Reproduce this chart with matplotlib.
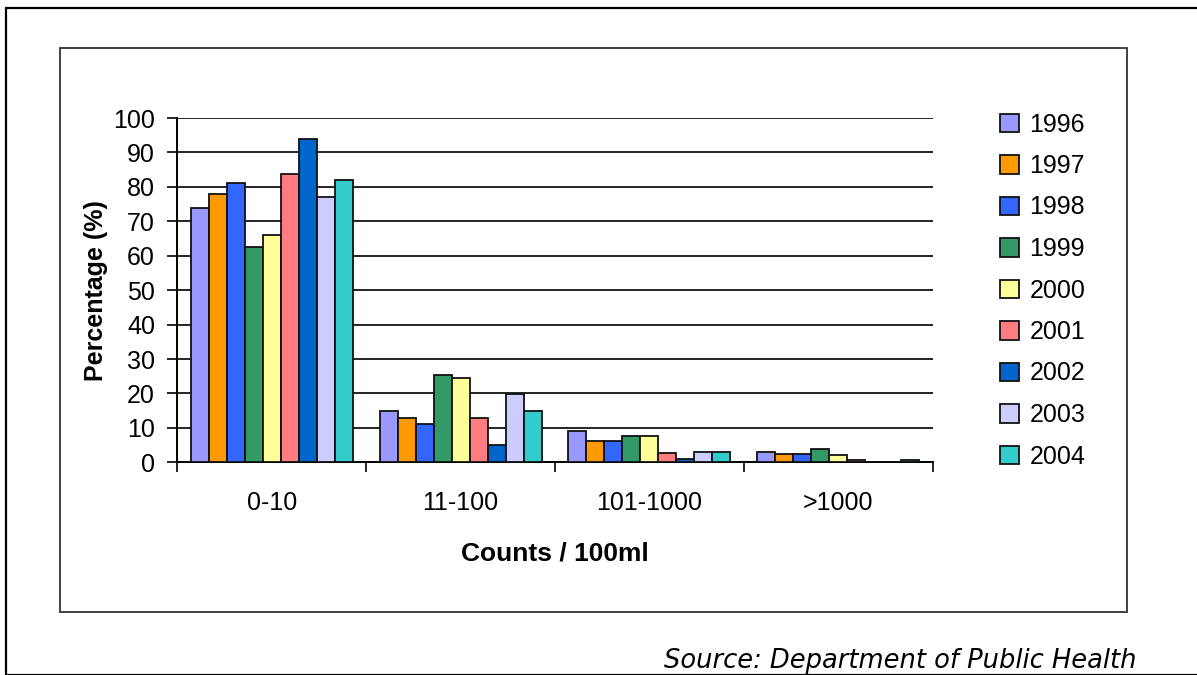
import numpy as np
import matplotlib
matplotlib.use("Agg")
from matplotlib import pyplot as plt
from matplotlib.patches import Rectangle

plt.rcParams['font.family'] = ['Liberation Sans', 'DejaVu Sans']

categories = ['0-10', '11-100', '101-1000', '>1000']
years = ['1996', '1997', '1998', '1999', '2000', '2001', '2002', '2003', '2004']
values = {
    '1996': [74.0, 15.0, 9.1, 2.9],
    '1997': [77.9, 12.8, 6.3, 2.4],
    '1998': [81.0, 11.1, 6.3, 2.4],
    '1999': [62.6, 25.3, 7.5, 3.8],
    '2000': [66.1, 24.5, 7.5, 2.0],
    '2001': [83.7, 12.8, 2.8, 0.7],
    '2002': [94.0, 5.0, 1.0, 0.0],
    '2003': [77.0, 19.7, 2.9, 0.0],
    '2004': [81.9, 15.0, 2.9, 0.7],
}
colors = ['#9999FF', '#FF9900', '#3366FF', '#339966', '#FFFF99',
          '#FF7C80', '#0066CC', '#CCCCFF', '#33CCCC']

W, H = 1197, 675
fig = plt.figure(figsize=(W / 100, H / 100), dpi=100)

# frames
fig.patches.append(Rectangle((6 / W, 0), 1.2, 1 - 8 / H, transform=fig.transFigure,
                             fill=False, lw=1.6, ec='black'))
fig.patches.append(Rectangle((60 / W, 1 - 612 / H), (1127 - 60) / W, (612 - 48) / H,
                             transform=fig.transFigure, fill=False, lw=1.3, ec='#333333'))

ax = fig.add_axes([177.3 / W, 1 - 462.3 / H, 755.4 / W, (462.3 - 118) / H])

x = np.arange(len(categories))
bw = 0.0953
for i, yr in enumerate(years):
    ax.bar(x + (i - 4) * bw, values[yr], width=bw, color=colors[i],
           edgecolor='#111111', linewidth=1.3, label=yr, zorder=3)

ax.set_xlim(-0.5, 3.5)
ax.set_ylim(0, 100)
ax.set_yticks(np.arange(0, 101, 10))
ax.yaxis.grid(True, color='black', linewidth=1.2, zorder=0)
ax.set_axisbelow(True)
ax.set_xticks(x)
ax.set_xticklabels(categories, fontsize=18)
ax.set_xticks(np.arange(-0.5, 3.6, 1), minor=True)
ax.tick_params(axis='x', which='major', length=0, pad=21)
ax.tick_params(axis='x', which='minor', length=7, width=1.2, direction='out')
ax.tick_params(axis='y', labelsize=18, length=7, width=1.2, pad=9)
for s in ['top', 'right']:
    ax.spines[s].set_visible(False)
for s in ['left', 'bottom']:
    ax.spines[s].set_linewidth(1.4)

ax.set_xlabel('Counts / 100ml', fontsize=19, fontweight='bold', labelpad=19)
ax.set_ylabel('Percentage (%)', fontsize=18, fontweight='bold', labelpad=4)

fig.legend(loc='upper left', bbox_to_anchor=(977 / W, 1 - 90 / H), frameon=False,
           fontsize=18, handlelength=0.76, handleheight=0.76, handletextpad=0.44,
           labelspacing=0.70)

fig.text(1137 / W, 1 - 668 / H, 'Source: Department of Public Health',
         ha='right', va='baseline', fontsize=18.5, style='italic', family='DejaVu Sans')

fig.savefig('out.png', dpi=100)
